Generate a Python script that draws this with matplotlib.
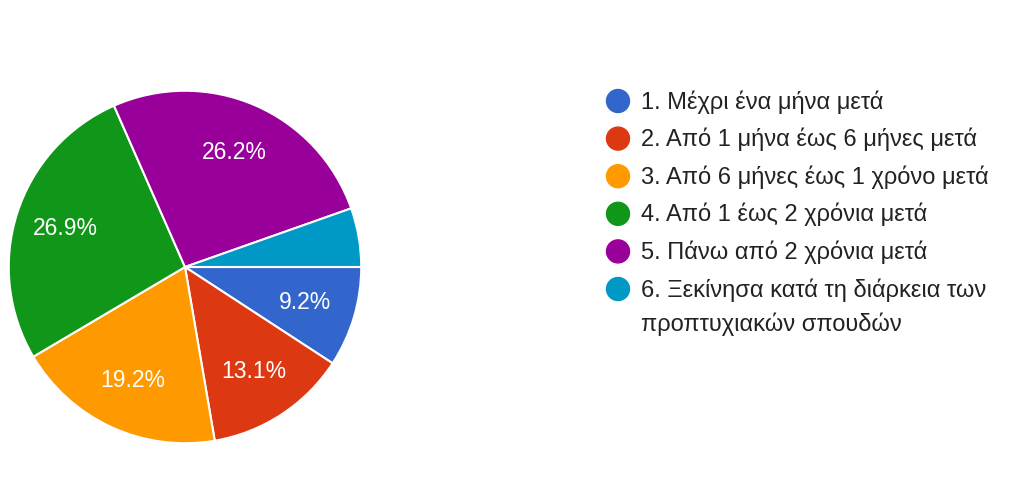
import matplotlib.pyplot as plt
from matplotlib.patches import Circle

plt.rcParams['font.family'] = ['Liberation Sans', 'DejaVu Sans']

labels = [
    '1. Μέχρι ένα μήνα μετά',
    '2. Από 1 μήνα έως 6 μήνες μετά',
    '3. Από 6 μήνες έως 1 χρόνο μετά',
    '4. Από 1 έως 2 χρόνια μετά',
    '5. Πάνω από 2 χρόνια μετά',
    '6. Ξεκίνησα κατά τη διάρκεια των\nπροπτυχιακών σπουδών',
]
values = [9.2, 13.1, 19.2, 26.9, 26.2, 5.4]
colors = ['#3366cc', '#dc3912', '#ff9900', '#109618', '#990099', '#0099c6']

W, H = 1023, 478
fig = plt.figure(figsize=(W / 100, H / 100), dpi=100)

# pie: centre (185, 267) px, radius 178 px
cx, cy, r = 185, 267, 178
ax = fig.add_axes([(cx - r) / W, (H - cy - r) / H, 2 * r / W, 2 * r / H])
wedges, _, autotexts = ax.pie(
    values, colors=colors, startangle=0, counterclock=False,
    autopct=lambda p: f'{p:.1f}%' if p > 6 else '', pctdistance=0.71,
    wedgeprops=dict(edgecolor='white', linewidth=1.5),
    textprops=dict(color='white', fontsize=16.5),
)
ax.set_xlim(-1.01, 1.01)
ax.set_ylim(-1.01, 1.01)
ax.set_aspect('equal')
ax.axis('off')

# legend drawn in pixel coords
lg = fig.add_axes([0, 0, 1, 1])
lg.set_xlim(0, W)
lg.set_ylim(H, 0)
lg.axis('off')
y0, step, line_gap = 101, 37.6, 34
for i, (lab, col) in enumerate(zip(labels, colors)):
    y = y0 + i * step
    lg.add_patch(Circle((618, y), 11.5, color=col))
    for k, line in enumerate(lab.split('\n')):
        lg.text(641, y + 7.5 + k * line_gap, line, fontsize=17,
                color='#222222', va='baseline', ha='left')

fig.savefig('out.png', dpi=100, facecolor='white')
